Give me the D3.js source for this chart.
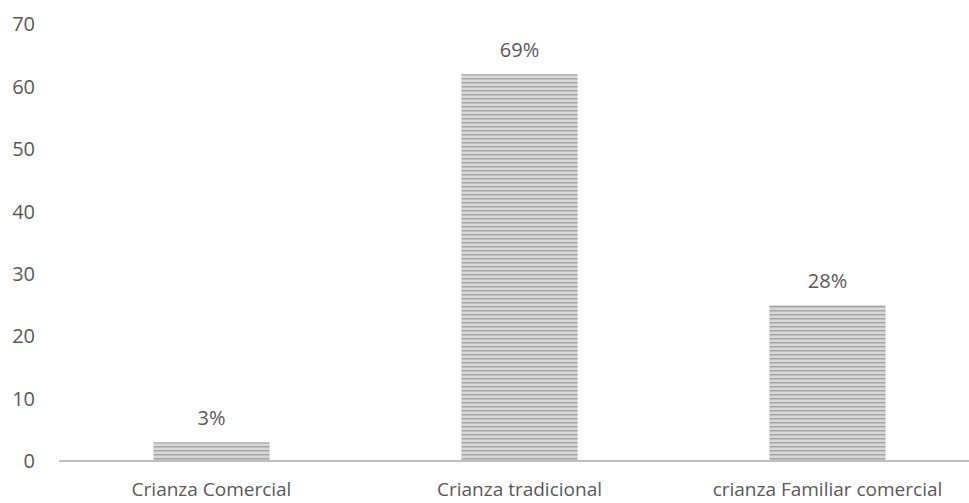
<!DOCTYPE html>
<html>
<head>
<meta charset="utf-8">
<script src="https://cdn.jsdelivr.net/npm/d3@7"></script>
<style>
body { margin: 0; background: #fff; }
text { font-family: "Open Sans", sans-serif; fill: #595959; }
</style>
</head>
<body>
<svg width="969" height="503"></svg>
<script>
var categories = ["Crianza Comercial", "Crianza tradicional", "crianza Familiar comercial"];
var values = [3, 62, 25];
var pctLabels = ["3%", "69%", "28%"];
var yTicks = [0, 10, 20, 30, 40, 50, 60, 70];

var svg = d3.select("svg");

// striped fill like the original
var defs = svg.append("defs");
var pat = defs.append("pattern")
	.attr("id", "stripes")
	.attr("patternUnits", "userSpaceOnUse")
	.attr("width", 8).attr("height", 4);
pat.append("rect").attr("width", 8).attr("height", 4).attr("fill", "#d8d8d8");
pat.append("rect").attr("y", 2).attr("width", 8).attr("height", 1.5).attr("fill", "#a6a6a6");

var x = d3.scaleBand()
	.domain(categories)
	.range([58, 981])
	.paddingInner(0.623)
	.paddingOuter(0.31);

var y = d3.scaleLinear()
	.domain([0, 70])
	.range([461, 24.2]);

// y tick labels (no axis line)
svg.append("g").selectAll("text")
	.data(yTicks)
	.enter().append("text")
	.attr("x", 35)
	.attr("y", function(d) { return y(d); })
	.attr("dy", "0.36em")
	.attr("text-anchor", "end")
	.style("font-size", "20px")
	.text(function(d) { return d; });

// bars
svg.append("g").selectAll("rect")
	.data(values)
	.enter().append("rect")
	.attr("x", function(d, i) { return x(categories[i]); })
	.attr("y", function(d) { return y(d); })
	.attr("width", x.bandwidth())
	.attr("height", function(d) { return y(0) - y(d); })
	.attr("fill", "url(#stripes)");

// value labels
svg.append("g").selectAll("text")
	.data(values)
	.enter().append("text")
	.attr("x", function(d, i) { return x(categories[i]) + x.bandwidth() / 2; })
	.attr("y", function(d) { return y(d) - 17; })
	.attr("text-anchor", "middle")
	.style("font-size", "20px")
	.text(function(d, i) { return pctLabels[i]; });

// baseline
svg.append("line")
	.attr("x1", 59).attr("x2", 969)
	.attr("y1", y(0)).attr("y2", y(0))
	.attr("stroke", "#bfbfbf")
	.attr("stroke-width", 2);

// category labels
svg.append("g").selectAll("text")
	.data(categories)
	.enter().append("text")
	.attr("x", function(d) { return x(d) + x.bandwidth() / 2; })
	.attr("y", 496)
	.attr("text-anchor", "middle")
	.style("font-size", "19px")
	.text(function(d) { return d; });
</script>
</body>
</html>
